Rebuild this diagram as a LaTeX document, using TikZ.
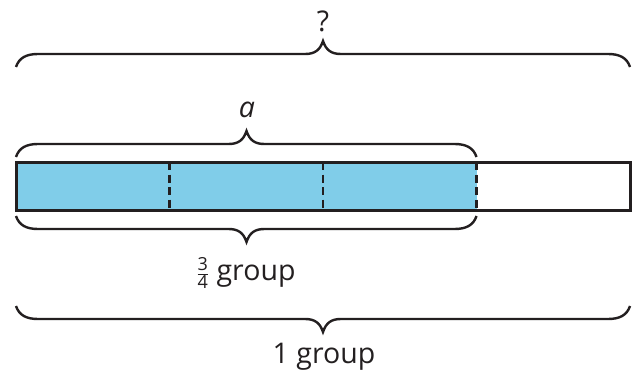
\documentclass[tikz,border=0pt]{standalone}
\usepackage{fontspec}
\setmainfont{Open Sans}
\definecolor{barblue}{RGB}{128,205,233}
\definecolor{ink}{RGB}{35,31,32}
\newcommand\hbrace[5]{% x0, x1, xm, yflat, s (+1 tip up, -1 tip down)
  \draw[bracestyle] ({#1},{#4+13*#5}) .. controls ({#1+3},{#4+4*#5}) and ({#1+10},{#4}) .. ({#1+22},{#4})
    -- ({#3-18},{#4}) .. controls ({#3-8},{#4}) and ({#3-3},{#4-4*#5}) .. ({#3},{#4-13*#5})
    .. controls ({#3+3},{#4-4*#5}) and ({#3+8},{#4}) .. ({#3+18},{#4})
    -- ({#2-22},{#4}) .. controls ({#2-10},{#4}) and ({#2-3},{#4+4*#5}) .. ({#2},{#4+13*#5});}
\tikzset{
  bracestyle/.style={draw=ink, line width=2.4pt},
  barline/.style={draw=ink, line width=3pt},
  dashline/.style={draw=ink, line width=2.8pt, dash pattern=on 8pt off 4.5pt},
  lbl/.style={text=ink, font=\fontsize{28.5}{31}\selectfont, inner sep=0pt},
}
\begin{document}
\begin{tikzpicture}[x=1pt,y=-1pt]
\useasboundingbox (0,0) rectangle (636,377);
\fill[barblue] (16,162) rectangle (476.5,210);
\draw[dashline] (169.5,162) -- (169.5,210);
\draw[dashline] (323,162) -- (323,210);
\draw[dashline] (476.5,162) -- (476.5,210);
\draw[barline] (16,162) rectangle (630,210);
\hbrace{16}{630}{323}{54}{1}
\hbrace{16}{476.5}{246.5}{144}{1}
\hbrace{16}{476.5}{246.5}{229}{-1}
\hbrace{16}{630}{323}{319}{-1}
\node[lbl] (q) at (323,21) {?};
\node[lbl] (a) at (247,110) {\itshape a};
\node[lbl, anchor=base] (fg) at (246,280) {$\frac{\mbox{\fontsize{18}{18}\selectfont 3}}{\mbox{\fontsize{18}{18}\selectfont 4}}$ group};
\node[lbl, anchor=base] (og) at (324,363) {1 group};
\end{tikzpicture}
\end{document}
